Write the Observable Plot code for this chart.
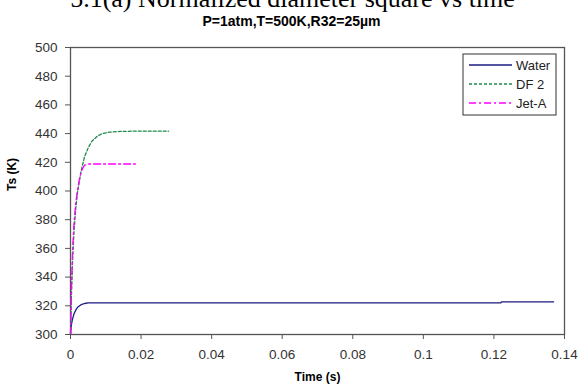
<!DOCTYPE html>
<html><head><meta charset="utf-8">
<script src="https://cdn.jsdelivr.net/npm/d3@7"></script>
<script src="https://cdn.jsdelivr.net/npm/@observablehq/plot@0.6"></script>
<style>
body{margin:0;background:#fff;}
#wrap{position:relative;width:579px;height:387px;overflow:hidden;}
</style></head>
<body><div id="wrap"></div>
<script>
const title = "5.1(a) Normalized diameter square vs time";
const subtitle = "P=1atm,T=500K,R32=25\u00b5m";
const xLabel = "Time (s)";
const yLabel = "Ts (K)";
const seriesNames = ["Water", "DF 2", "Jet-A"];
const xTicks = [0, 0.02, 0.04, 0.06, 0.08, 0.1, 0.12, 0.14];
const yTicks = [300, 320, 340, 360, 380, 400, 420, 440, 460, 480, 500];

const waterTime = [0, 0.0002, 0.0005, 0.001, 0.0015, 0.002, 0.003, 0.004, 0.005, 0.006, 0.122, 0.1221, 0.1369];
const waterTs   = [300, 306, 310, 314.5, 317, 319, 320.8, 321.6, 322, 322.1, 322.1, 322.7, 322.7];
const df2Time = [0, 0.0003, 0.0006, 0.001, 0.0015, 0.002, 0.003, 0.004, 0.005, 0.006, 0.0075, 0.009, 0.011, 0.014, 0.018, 0.0278];
const df2Ts   = [300, 330, 352, 372, 388, 399, 414, 424, 430, 434.5, 438, 440, 441, 441.5, 441.7, 441.7];
const jetTime = [0, 0.0003, 0.0006, 0.001, 0.0015, 0.002, 0.0025, 0.003, 0.0035, 0.004, 0.005, 0.0184];
const jetTs   = [300, 336, 360, 378, 392, 401, 408, 413, 416, 418, 418.8, 418.8];

const colors = ["#1a1a80", "#1f8a4c", "#ff00ff"];
const dashes = [null, "3,2", "7,3,2,3"];

const toRows = (t, v, s) => t.map((x, i) => ({t: x, T: v[i], s}));
const series = [toRows(waterTime, waterTs, seriesNames[0]), toRows(df2Time, df2Ts, seriesNames[1]), toRows(jetTime, jetTs, seriesNames[2])];

const font = "'Liberation Sans', Arial, sans-serif";
const fmt = d => String(+d.toFixed(2));
const plot = Plot.plot({
  width: 579, height: 387,
  marginLeft: 70, marginRight: 15, marginTop: 47, marginBottom: 53,
  style: {fontFamily: font, fontSize: "13px", color: "#333", background: "#fff", overflow: "visible"},
  x: {domain: [0, 0.14], ticks: xTicks, tickFormat: fmt, tickSize: 5, label: null},
  y: {domain: [300, 500], ticks: yTicks, tickSize: 5, label: null},
  marks: [
    Plot.frame({stroke: "#555", strokeWidth: 1.3}),
    ...series.map((rows, i) => Plot.line(rows, {x: "t", y: "T", stroke: colors[i], strokeWidth: 1.3, strokeDasharray: dashes[i]})),
    Plot.axisX({ticks: xTicks, tickSize: 5, tickPadding: 10, stroke: "#555", fill: "#333", fontSize: 13.5, tickFormat: fmt, label: null}),
    Plot.axisY({ticks: yTicks, tickSize: 5, tickPadding: 8, stroke: "#555", fill: "#333", fontSize: 13.5, label: null}),
    Plot.text([title], {frameAnchor: "top", dx: -25, dy: -41, text: d => d, fontFamily: "'Liberation Serif', 'Times New Roman', serif", fontSize: 26, fill: "#000", lineAnchor: "bottom"}),
    Plot.text([subtitle], {frameAnchor: "top", dx: -26, dy: -22, text: d => d, fontSize: 14, fontWeight: "bold", fill: "#000", lineAnchor: "bottom"}),
    Plot.text([xLabel], {frameAnchor: "bottom", dy: 46, text: d => d, fontSize: 12, fontWeight: "bold", fill: "#000"}),
    Plot.text([yLabel], {frameAnchor: "left", dx: -58, rotate: -90, text: d => d, fontSize: 12, fontWeight: "bold", fill: "#000"})
  ]
});
document.getElementById("wrap").appendChild(plot);

// legend
const svg = d3.select(plot);
const lg = svg.append("g").attr("transform", "translate(463,54)");
lg.append("rect").attr("width", 93).attr("height", 61).attr("fill", "#fff").attr("stroke", "#333").attr("stroke-width", 1);
seriesNames.forEach((n, i) => {
  const y = 11 + i * 19;
  lg.append("line").attr("x1", 6).attr("x2", 49).attr("y1", y).attr("y2", y)
    .attr("stroke", colors[i]).attr("stroke-width", 1.3).attr("stroke-dasharray", dashes[i]);
  lg.append("text").attr("x", 53).attr("y", y).attr("dy", "0.35em").attr("font-family", font)
    .attr("text-anchor", "start").attr("font-size", 13).attr("fill", "#222").text(n);
});
</script></body></html>
